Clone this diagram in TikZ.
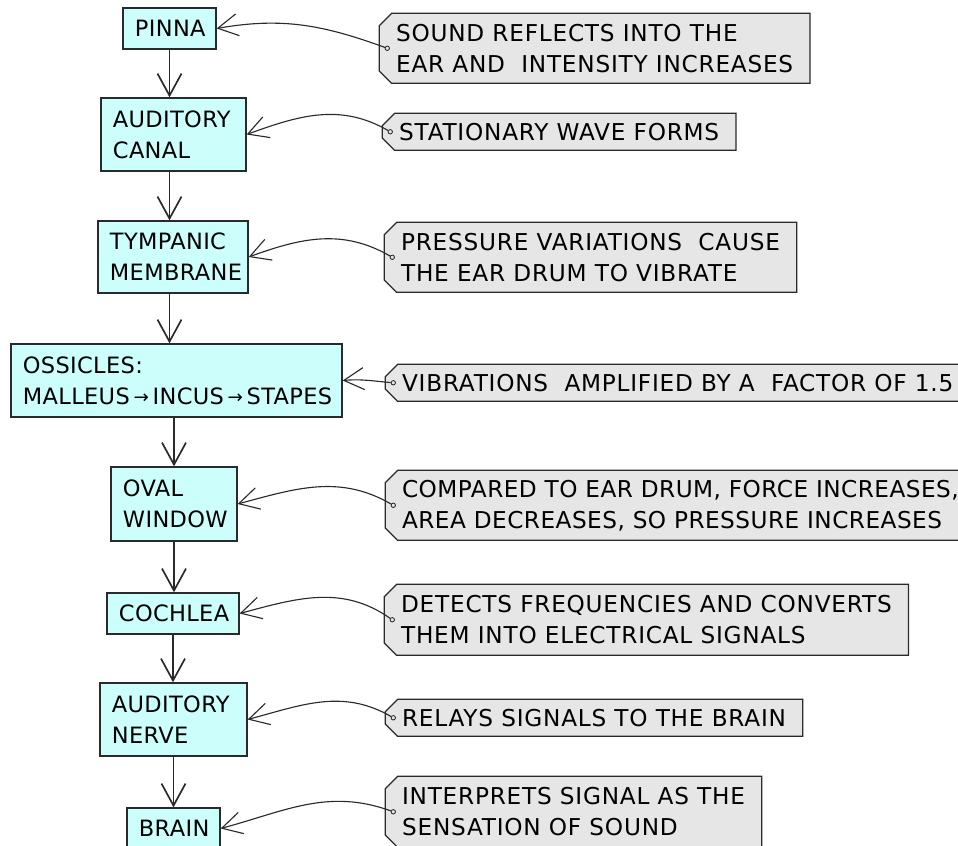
\documentclass[tikz,border=0pt]{standalone}
\usepackage{fontspec}
\setmainfont{DejaVu Sans}[LetterSpace=3.3]
\newfontfamily\stagefont{DejaVu Sans}[LetterSpace=1.5]
\usetikzlibrary{positioning,arrows.meta,shapes.misc}

\definecolor{boxfill}{HTML}{CCFFFB}
\definecolor{tagfill}{HTML}{E6E6E6}
\definecolor{inkgray}{HTML}{2A2A2A}
\newcommand{\smallarr}{{\fontsize{13}{13}\selectfont\raisebox{0.1ex}{→}}}

\tikzset{
  stage/.style={draw=inkgray, line width=0.9pt, fill=boxfill, align=left,
    inner xsep=0.3cm, inner ysep=0pt, font=\stagefont\fontsize{16}{22}\selectfont},
  note/.style={chamfered rectangle, chamfered rectangle corners={north west,south west},
    chamfered rectangle xsep=0.18cm, draw=inkgray, line width=0.9pt, fill=tagfill,
    align=left, inner xsep=0.24cm, inner ysep=0pt, anchor=north west,
    font=\fontsize{16.5}{22}\selectfont},
  hole/.style={circle, draw=inkgray, line width=0.6pt, fill=tagfill, inner sep=0pt, minimum size=0.11cm},
  flow/.style={draw=inkgray, line width=1.2pt, -{Straight Barb[length=0.55cm,width=0.6cm]}},
  pointer/.style={draw=inkgray, line width=0.8pt, -{Straight Barb[length=0.5cm,width=0.55cm]}}
}

\begin{document}
\begin{tikzpicture}[x=0.025cm, y=-0.025cm]
  \useasboundingbox (0,0) rectangle (958,846);

  %Stages of hearing
  \node[stage, minimum width=2.325cm, minimum height=1.025cm, text width=1.725cm] (pinna) at (169.5,28.5) {PINNA};
  \node[stage, minimum width=3.625cm, minimum height=1.825cm, text width=3.025cm] (canal) at (173.5,134.5) {AUDITORY\\CANAL};
  \node[stage, minimum width=3.75cm, minimum height=1.8cm, text width=3.15cm] (tympanic) at (173,257) {TYMPANIC\\MEMBRANE};
  \node[stage, minimum width=8.275cm, minimum height=1.825cm, text width=7.675cm] (ossicles) at (176.5,380.5) {OSSICLES:\\MALLEUS\,\smallarr\,INCUS\,\smallarr\,STAPES};
  \node[stage, minimum width=3.15cm, minimum height=1.85cm, text width=2.55cm] (oval) at (174,504) {OVAL\\WINDOW};
  \node[stage, minimum width=3.3cm, minimum height=1.025cm, text width=2.7cm] (cochlea) at (173,613.5) {COCHLEA};
  \node[stage, minimum width=3.675cm, minimum height=1.825cm, text width=3.075cm] (nerve) at (173.5,719.5) {AUDITORY\\NERVE};
  \node[stage, minimum width=2.325cm, minimum height=1.025cm, text width=1.725cm] (brain) at (173.5,828.5) {BRAIN};

  %Flow
  \draw[flow] (pinna.south) -- (pinna.south |- canal.north);
  \draw[flow] (pinna.south |- canal.south) -- (pinna.south |- tympanic.north);
  \draw[flow] (pinna.south |- tympanic.south) -- (pinna.south |- ossicles.north);
  \draw[flow] (oval.north |- ossicles.south) -- (oval.north);
  \draw[flow] (oval.south) -- (oval.south |- cochlea.north);
  \draw[flow] (cochlea.south) -- (cochlea.south |- nerve.north);
  \draw[flow] (nerve.south) -- (nerve.south |- brain.north);

  %Notes
  \node[note, minimum height=1.75cm] (reflect) at (385,19) {SOUND REFLECTS INTO THE\\EAR AND\ \ INTENSITY INCREASES};
  \node[note, minimum height=0.925cm] (standing) at (388,119) {STATIONARY WAVE FORMS};
  \node[note, minimum height=1.75cm] (pressure) at (390,228) {PRESSURE VARIATIONS\ \ CAUSE\\THE EAR DRUM TO VIBRATE};
  \node[note, minimum height=0.925cm] (amplify) at (391,370) {VIBRATIONS\ \ AMPLIFIED BY A\ \ FACTOR OF 1.5};
  \node[note, minimum height=1.75cm, font=\fontsize{16.5}{22}\selectfont\addfontfeatures{LetterSpace=2}] (compare) at (391,476) {COMPARED TO EAR DRUM, FORCE INCREASES,\\AREA DECREASES, SO PRESSURE INCREASES};
  \node[note, minimum height=1.775cm] (detect) at (390,590) {DETECTS FREQUENCIES AND CONVERTS\\THEM INTO ELECTRICAL SIGNALS};
  \node[note, minimum height=0.925cm] (relay) at (391,705) {RELAYS SIGNALS TO THE BRAIN};
  \node[note, minimum height=1.775cm] (interpret) at (391,782) {INTERPRETS SIGNAL AS THE\\SENSATION OF SOUND};

  %Holes
  \node[hole, right=1.5mm of reflect.west] (h1) {};
  \node[hole, right=1.5mm of standing.west] (h2) {};
  \node[hole, right=1.5mm of pressure.west] (h3) {};
  \node[hole, right=1.5mm of amplify.west] (h4) {};
  \node[hole, right=1.5mm of compare.west] (h5) {};
  \node[hole, right=1.5mm of detect.west] (h6) {};
  \node[hole, right=1.5mm of relay.west] (h7) {};
  \node[hole, right=1.5mm of interpret.west] (h8) {};

  %Pointers
  \draw[pointer] (h1) to[out=160, in=10] (pinna.east);
  \draw[pointer] (h2) to[out=150, in=20] (canal.east);
  \draw[pointer] (h3) to[out=150, in=20] (tympanic.east);
  \draw[pointer] (h4) to[out=175, in=5] (ossicles.east);
  \draw[pointer] (h5) to[out=150, in=15] (oval.east);
  \draw[pointer] (h6) to[out=145, in=15] (cochlea.east);
  \draw[pointer] (h7) to[out=150, in=15] (nerve.east);
  \draw[pointer] (h8) to[out=160, in=15] (brain.east);
\end{tikzpicture}
\end{document}
